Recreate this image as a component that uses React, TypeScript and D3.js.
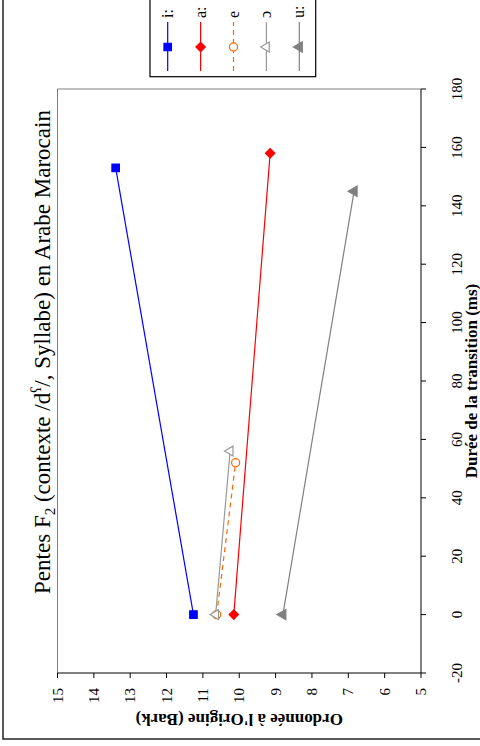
import React from 'react';
import * as d3 from 'd3';

// Data (duration in ms, intercept in Bark)
const seriesNames = ['i:', 'a:', 'e', 'ɔ', 'u:'];
const iDur = [0, 153];
const iBark = [11.26, 13.4];
const aDur = [0, 158];
const aBark = [10.15, 9.15];
const eDur = [0, 52];
const eBark = [10.62, 10.1];
const oDur = [0, 56];
const oBark = [10.65, 10.25];
const uDur = [0, 145];
const uBark = [8.8, 6.84];
const xTicks = [-20, 0, 20, 40, 60, 80, 100, 120, 140, 160, 180];
const yTicks = [15, 14, 13, 12, 11, 10, 9, 8, 7, 6, 5];

const FONT = '"Liberation Serif", "Times New Roman", serif';

const symbolRhombus: d3.SymbolType = {
  draw(ctx, size) {
    const r = Math.sqrt(size / 2);
    ctx.moveTo(0, -r);
    ctx.lineTo(r, 0);
    ctx.lineTo(0, r);
    ctx.lineTo(-r, 0);
    ctx.closePath();
  },
};

type Series = {
  name: string;
  dur: number[];
  bark: number[];
  color: string;
  dash?: string;
  symbol: d3.SymbolType;
  size: number;
  filled: boolean;
};

const series: Series[] = [
  { name: seriesNames[0], dur: iDur, bark: iBark, color: '#0000FF', symbol: d3.symbolSquare, size: 56, filled: true },
  { name: seriesNames[1], dur: aDur, bark: aBark, color: '#FF0000', symbol: symbolRhombus, size: 44, filled: true },
  { name: seriesNames[2], dur: eDur, bark: eBark, color: '#FF6600', dash: '5,4', symbol: d3.symbolCircle, size: 52, filled: false },
  { name: seriesNames[3], dur: oDur, bark: oBark, color: '#999999', symbol: d3.symbolTriangle, size: 42, filled: false },
  { name: seriesNames[4], dur: uDur, bark: uBark, color: '#808080', symbol: d3.symbolTriangle, size: 46, filled: true },
];

export default function App() {
  // chart drawn in landscape (746 x 480) then rotated -90°
  const plotL = 73, plotR = 657, plotT = 57.5, plotB = 421;
  const x = d3.scaleLinear().domain([-20, 180]).range([plotL, plotR]);
  const y = d3.scaleLinear().domain([5, 15]).range([plotB, plotT]);
  const line = d3.line<[number, number]>().x(d => x(d[0])).y(d => y(d[1]));

  const legendV0 = 167.7, legendStep = 32.9;

  return (
    <svg width={480} height={746} style={{ position: 'absolute', left: 0, top: 0, background: '#fff' }}>
      <rect x={0} y={0} width={480} height={746} fill="#fff" />
      <g transform="translate(0,746) rotate(-90)" fontFamily={FONT}>
        {/* chart area border */}
        <rect x={7} y={3} width={800} height={800} fill="none" stroke="#222" strokeWidth={1.5} />

        {/* plot area gray border (top/right) */}
        <line x1={plotL} x2={plotR} y1={plotT} y2={plotT} stroke="#808080" strokeWidth={1} />
        <line x1={plotR} x2={plotR} y1={plotT} y2={plotB} stroke="#808080" strokeWidth={1} />

        {/* axes */}
        <line x1={plotL} x2={plotR} y1={plotB} y2={plotB} stroke="#000" strokeWidth={1} />
        <line x1={plotL} x2={plotL} y1={plotT} y2={plotB} stroke="#000" strokeWidth={1} />
        {xTicks.map(t => (
          <g key={'xt' + t}>
            <line x1={x(t)} x2={x(t)} y1={plotB} y2={plotB + 5} stroke="#000" />
            <text x={x(t)} y={462} fontSize={15} textAnchor="middle" fill="#000">{t}</text>
          </g>
        ))}
        {yTicks.map(t => (
          <g key={'yt' + t}>
            <line x1={plotL - 5} x2={plotL} y1={y(t)} y2={y(t)} stroke="#000" />
            <text x={58} y={y(t) + 5} fontSize={15} textAnchor="end" fill="#000">{t}</text>
          </g>
        ))}

        {/* axis titles */}
        <text x={(plotL + plotR) / 2} y={477} fontSize={17} fontWeight="bold" textAnchor="middle">Durée de la transition (ms)</text>
        <text transform={`translate(32,${(plotT + plotB) / 2}) rotate(-90)`} fontSize={17} fontWeight="bold" textAnchor="middle">Ordonnée à l'Origine (Bark)</text>

        {/* chart title */}
        <text x={394} y={50} fontSize={23} textAnchor="middle">
          Pentes F<tspan fontSize={15} dy={5}>2</tspan><tspan dy={-5}> (contexte /d</tspan><tspan fontSize={14} dy={-9}>ʕ</tspan><tspan dy={9}>/, Syllabe) en Arabe Marocain</tspan>
        </text>

        {/* series */}
        {series.map(s => {
          const pts: [number, number][] = s.dur.map((d, i) => [d, s.bark[i]]);
          const sym = d3.symbol().type(s.symbol).size(s.size)();
          return (
            <g key={s.name}>
              <path d={line(pts) || ''} fill="none" stroke={s.color} strokeWidth={1.2} strokeDasharray={s.dash} />
              {pts.map((p, i) => (
                <path key={i} d={sym || ''} transform={`translate(${x(p[0])},${y(p[1])})`}
                  fill={s.filled ? s.color : '#fff'} stroke={s.color} strokeWidth={1.2} />
              ))}
            </g>
          );
        })}

        {/* legend */}
        <rect x={669.3} y={150} width={150} height={165.7} fill="#fff" stroke="#000" strokeWidth={1.2} />
        {series.map((s, i) => {
          const v = legendV0 + i * legendStep;
          const sym = d3.symbol().type(s.symbol).size(s.size)();
          return (
            <g key={'lg' + s.name}>
              <line x1={675} x2={724} y1={v} y2={v} stroke={s.color} strokeWidth={1.2} strokeDasharray={s.dash} />
              <path d={sym || ''} transform={`translate(699,${v})`} fill={s.filled ? s.color : '#fff'} stroke={s.color} strokeWidth={1.2} />
              <text x={728} y={v + 5} fontSize={16} fill="#000">{s.name}</text>
            </g>
          );
        })}
      </g>
    </svg>
  );
}
